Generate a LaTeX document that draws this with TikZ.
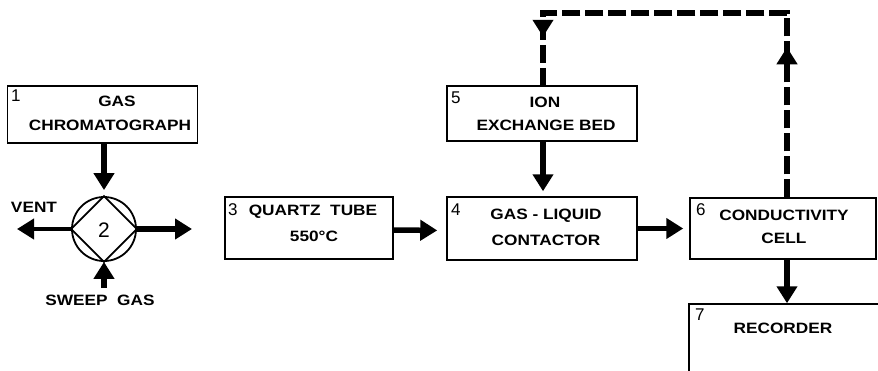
\documentclass[tikz,border=0pt]{standalone}
\usepackage{fontspec}
\setmainfont{Liberation Sans}
\newfontfamily\labfont[FakeStretch=1.15]{Liberation Sans}
\usetikzlibrary{arrows.meta,decorations.markings}
\begin{document}
\begin{tikzpicture}[x=1pt,y=-1pt,
  box/.style={draw,line width=1.5pt,inner sep=0pt},
  lab/.style={font=\labfont\bfseries\fontsize{15}{17}\selectfont,inner sep=0pt},
  num/.style={font=\fontsize{17}{18}\selectfont,inner sep=0pt},
  flow/.style={line width=5.5pt,-{Triangle[width=20pt,length=17pt]}},
  loopline/.style={line width=5.5pt,dash pattern=on 18pt off 5pt,
    postaction={decorate,decoration={markings,
      mark=at position 150pt with {\arrow[solid]{Triangle[width=20pt,length=17pt]}},
      mark=at position 452pt with {\arrow[solid]{Triangle[width=20pt,length=17pt]}}}}}
]
\useasboundingbox (0,0) rectangle (878,370);
\clip (0,0) rectangle (878,370);
\fill[white] (0,0) rectangle (878,370);

% boxes
\node[box,minimum width=190pt,minimum height=57pt] (b1) at (102.5,114.5) {};
\node[box,minimum width=168pt,minimum height=62pt] (b3) at (309,228) {};
\node[box,minimum width=190pt,minimum height=63pt] (b4) at (542,228.5) {};
\node[box,minimum width=190pt,minimum height=55pt] (b5) at (542,113.5) {};
\node[box,minimum width=186pt,minimum height=61pt] (b6) at (783,228.5) {};
\node[box,minimum width=192pt,minimum height=80pt] (b7) at (785,344) {};

% valve
\node[draw,circle,line width=1.8pt,minimum size=64pt,inner sep=0pt] (sw) at (104,229) {};
\draw[line width=1.8pt] (sw.north) -- (sw.east) -- (sw.south) -- (sw.west) -- cycle;
\node[num,font=\fontsize{21}{22}\selectfont] (t2) at (104,230) {2};

% numbers
\node[num,anchor=north west] (n1) at (11,90) {1};
\node[num,anchor=north west] (n3) at (228,203) {3};
\node[num,anchor=north west] (n4) at (451,204) {4};
\node[num,anchor=north west] (n5) at (451,92) {5};
\node[num,anchor=north west] (n6) at (696,203) {6};
\node[num,anchor=north west] (n7) at (695,309) {7};

% labels
\node[lab] (l1a) at (117,101) {GAS};
\node[lab] (l1b) at (110,125) {CHROMATOGRAPH};
\node[lab] (l3a) at (313,212) {QUARTZ\ \ TUBE};
\node[lab] (l3b) at (314,236) {550°C};
\node[lab] (l4a) at (546,216) {GAS - LIQUID};
\node[lab] (l4b) at (546,240) {CONTACTOR};
\node[lab] (l5a) at (545,102) {ION};
\node[lab] (l5b) at (546,125) {EXCHANGE BED};
\node[lab] (l6a) at (784,215) {CONDUCTIVITY};
\node[lab] (l6b) at (784,238) {CELL};
\node[lab] (l7) at (783,328) {RECORDER};
\node[lab] (lv) at (34,207) {VENT};
\node[lab] (ls) at (100,300) {SWEEP\ \ GAS};

% free ends
\coordinate (ventend) at (17,229);
\coordinate (outend) at (192,229);
\coordinate (sweepend) at (104,288);
\coordinate (ltr) at (787,13);
\coordinate (ltl) at (543,13);

% connectors
\draw[flow,shorten >=6pt] (b1.south -| sw.north) -- (sw.north);
\draw[flow,line width=4pt] (sw.west) -- (ventend);
\draw[flow] (sw.east) -- (outend);
\draw[flow] (sweepend) -- (sw.south);
\draw[flow,shorten >=9pt] ([yshift=-2pt]b3.east) -- ([yshift=-2pt]b4.west);
\draw[flow,shorten >=6pt] (b4.east) -- (b6.west);
\draw[flow,shorten >=5pt] (b5.south -| ltl) -- (b4.north -| ltl);
\draw[flow] (b6.south -| ltr) -- (b7.north -| ltr);
\draw[loopline] (b6.north -| ltr) -- (ltr) -- (ltl) -- (b5.north -| ltl);
\end{tikzpicture}
\end{document}
